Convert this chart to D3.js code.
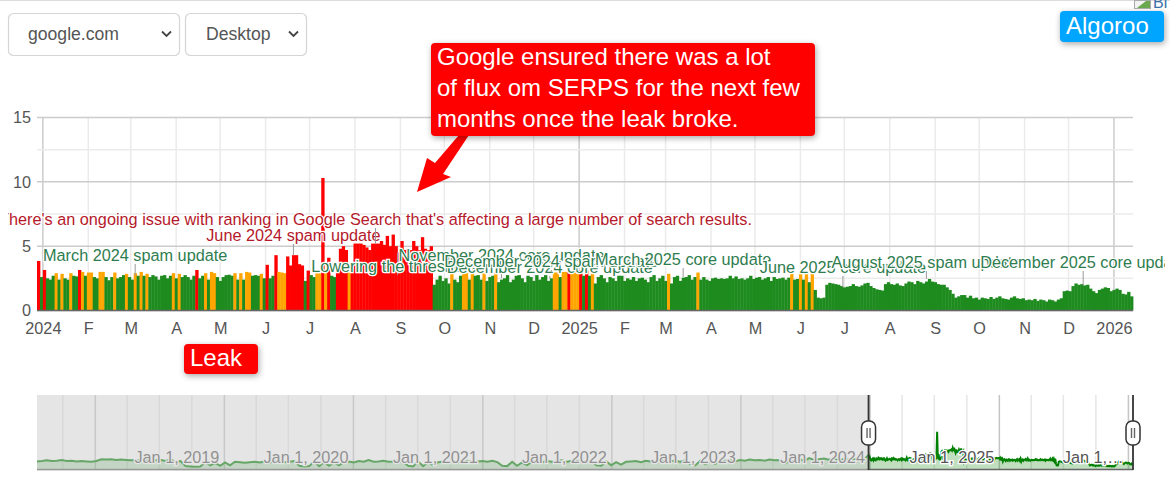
<!DOCTYPE html>
<html lang="en">
<head>
    <meta charset="UTF-8">
    <title>Algoroo</title>
    <script src="https://d3js.org/d3.v7.min.js"></script>
    <style>
        body { margin: 0; background: #fff; }
        svg { display: block; font-family: "Liberation Sans", Arial, sans-serif; }
        .shadow { filter: drop-shadow(1px 2px 3px rgba(0,0,0,.35)); }
    </style>
</head>
<body>
    <div id="chart"></div>
    <script>
        // one value every two days, starting 28 Dec 2023
        var values2024 = [
            3.85,2.6,3.15,2.5,2.4,2.7,2.9,2.4,2.85,2.5,
            2.4,2.9,2.7,2.65,3.15,3.0,2.7,2.95,2.95,2.6,
            2.5,3.0,3.0,2.6,2.35,2.6,2.95,2.5,2.6,2.75,
            2.85,2.6,2.4,2.9,2.7,3.0,2.7,2.85,2.6,2.75,
            2.65,2.4,2.7,2.75,2.5,2.7,2.9,2.5,2.85,2.6,
            2.75,2.6,2.4,2.7,3.15,2.5,2.7,2.9,2.4,3.0,
            2.9,2.6,2.3,2.6,2.75,2.78,2.7,2.9,2.4,2.9,
            2.4,3.0,2.95,2.7,2.75,2.7,2.85,2.5,3.55,2.5,
            2.7,4.3,3.0,2.95,2.9,4.2,3.5,4.3,4.3,3.6,
            3.5,2.3,3.1,2.75,2.6,2.9,2.9,10.3,2.9,4.1,
            2.7,2.6,3.1,4.8,5.0,4.7,2.95,3.1,5.2,5.2,
            5.2,5.1,4.9,4.7,5.2,5.2,5.2,5.4,5.1,5.8,
            5.0,5.9,5.0,4.5,5.4,4.7,4.8,4.7,5.4,5.0,
            4.7,5.7,4.8,4.7,5.0,2.0,2.4,2.7,2.3,2.5,
            2.1,2.85,2.4,2.2,2.7,2.9,2.9,2.4,2.85,2.7,
            2.75,2.4,2.9,2.3,2.6,2.7,2.95,2.2,2.4,2.5,
            2.75,2.2,2.4,2.7,2.75,2.5,2.2,2.7,2.6,2.3,
            2.75,2.4,2.6,2.75,2.3,2.5,2.95,2.95,2.6,3.0,
            3.0,3.1,3.0,3.0,3.0
        ];
        var values2025 = [
            3.1,2.7,3.1,2.7,2.9,
            2.1,2.6,2.75,2.5,2.2,2.6,2.5,2.3,2.7,2.7,
            2.3,2.5,2.4,2.6,2.3,2.5,2.55,2.4,2.2,2.6,
            2.75,2.3,2.5,2.7,2.3,2.85,2.1,2.6,2.7,2.3,
            2.55,2.6,2.75,2.4,2.6,2.95,2.4,2.6,2.4,2.3,
            2.5,2.55,2.45,2.5,2.45,2.5,2.7,2.5,2.65,2.45,
            2.5,2.4,2.5,2.7,2.45,2.55,2.6,2.4,2.5,2.6,
            2.3,2.6,2.45,2.5,2.55,2.4,2.55,2.85,2.4,2.45,
            2.85,2.4,2.85,2.2,2.85,1.6,1.0,.95,1.0,2.0,
            2.15,2.1,2.05,2.0,1.9,1.8,1.85,1.9,2.05,1.9,
            1.85,1.95,2.1,2.15,1.9,1.75,1.65,1.6,1.55,2.05,
            2.2,2.05,2.0,2.1,1.95,1.9,2.1,2.25,2.2,2.05,
            2.3,2.2,2.1,2.25,2.45,2.25,2.2,2.05,2.0,2.0,
            1.8,1.6,1.3,1.0,1.1,1.2,1.2,1.0,1.15,.95,
            1.0,.85,1.0,.95,.9,1.05,.9,1.0,1.1,.95,
            .9,.85,1.0,1.1,.95,.9,.95,.8,.85,.8,
            .9,.75,.85,.8,.7,.85,.8,.7,.85,.95,
            1.5,1.55,1.5,1.9,2.1,2.0,2.05,1.95,2.0,1.7,
            1.5,1.35,1.6,1.7,1.8,1.75,1.5,1.6,1.7,1.6,
            1.3,1.25,1.45,1.1
        ];
        // navigator history, one value every two weeks up to the start of the main data
        var historyValues = [
            2.2,2.3,2.1,2.2,2.4,2.2,2.3,2.5,2.2,2.3,
            2.1,2.2,2.1,2.0,2.2,2.7,2.6,2.7,2.5,2.6,
            2.5,2.4,2.5,2.4,2.5,2.3,2.4,2.5,2.2,2.6,
            2.0,2.2,0.8,0.7,0.6,0.7,1.9,1.0,1.7,0.9,
            1.8,1.0,2.0,1.9,1.7,1.9,2.0,1.8,2.1,1.9,
            2.0,2.3,1.9,2.0,2.2,0.9,0.7,0.8,2.1,0.8,
            1.9,0.9,1.8,1.0,1.9,2.1,1.8,2.2,2.0,2.5,
            2.0,2.1,2.3,2.0,2.1,2.4,1.8,0.9,0.7,2.1,
            0.8,1.9,1.0,1.9,2.0,1.8,2.2,1.9,2.1,2.3,
            1.9,2.1,2.2,2.0,2.3,1.9,0.9,0.8,2.0,0.9,
            1.8,1.1,2.0,2.1,1.9,2.2,2.0,2.1,2.4,2.0,
            2.2,2.3,2.0,2.1,2.2,1.0,0.9,2.1,1.0,1.9,
            1.2,2.0,2.1,2.2,1.9,2.3,2.1,2.2,2.4,2.1,
            2.3,2.2,2.0,2.4,1.2,1.0,2.3,1.3,2.0,1.4,
            2.2,2.3,2.4,2.1,2.5,2.3,2.6,2.4,2.5,2.3,
            2.6,2.4,2.5,1.6,2.0,2.4,2.8,2.2,3.0,2.5,
            2.7,2.9,2.6,2.8,2.5,2.7,2.6,2.8,2.5,2.6
        ];

        var yTicks = [0, 5, 10, 15];
        var yMinorTicks = [2.5, 7.5, 12.5];
        var monthLabels = ["2024","F","M","A","M","J","J","A","S","O","N","D",
                           "2025","F","M","A","M","J","J","A","S","O","N","D","2026"];
        var navYears = [2018, 2019, 2020, 2021, 2022, 2023, 2024, 2025, 2026];
        var navLabels = ["", "Jan 1, 2019", "Jan 1, 2020", "Jan 1, 2021", "Jan 1, 2022",
                         "Jan 1, 2023", "Jan 1, 2024", "Jan 1, 2025", "Jan 1,…"];

        var annotationTexts = [
            "March 2024 spam update",
            "June 2024 spam update",
            "There's an ongoing issue with ranking in Google Search that's affecting a large number of search results.",
            "Lowering the thresholds",
            "November 2024 core update",
            "December 2024 core update",
            "December 2024 spam update",
            "March 2025 core update",
            "June 2025 core update",
            "August 2025 spam update",
            "December 2025 core update"
        ];
        var annotationDates = ["2024-03-04","2024-06-20","2024-08-15","2024-08-30","2024-11-09",
                               "2024-12-12","2024-12-13","2025-03-13","2025-06-30","2025-08-26","2025-12-11"];
        var annotationKinds = ["update","issue","issue","update","update","update","update","update","update","update","update"];
        // baseline of each annotation text, in page pixels
        var annotationLevels = [261, 241, 225, 272, 261, 273, 267, 265, 273, 268, 268];

        var parseDay = d3.timeParse("%Y-%m-%d");
        var start = new Date(2023, 11, 28);
        var end = d3.timeDay.offset(start, 748);
        var values = values2024.concat(values2025);
        var data = values.map(function(v, i) {
            return { date: d3.timeDay.offset(start, i * 2), value: v };
        });

        var svg = d3.select("#chart").append("svg").attr("width", 1170).attr("height", 500);

        svg.append("line").attr("x1", 0).attr("x2", 1170).attr("y1", 0.5).attr("y2", 0.5).attr("stroke", "#ddd");

        // ---- main chart ----
        var x = d3.scaleTime().domain([start, end]).range([37, 1133]);
        var y = d3.scaleLinear().domain([0, 15]).range([310.5, 117.5]);
        var color = d3.scaleThreshold().domain([2.8, 3.05]).range(["#1e8b1e", "#ffa500", "#ff0000"]);

        var months = d3.timeMonth.range(new Date(2024, 0, 1), new Date(2026, 0, 2));

        svg.append("g").selectAll("line").data(months).enter().append("line")
            .attr("x1", function(d) { return x(d); })
            .attr("x2", function(d) { return x(d); })
            .attr("y1", y(15)).attr("y2", y(0))
            .attr("stroke", function(d) { return d.getMonth() === 0 ? "#ccc" : "#ebebeb"; })
            .attr("stroke-width", 1.5);

        svg.append("g").selectAll("line").data(yMinorTicks).enter().append("line")
            .attr("x1", 37).attr("x2", 1133)
            .attr("y1", function(d) { return y(d); })
            .attr("y2", function(d) { return y(d); })
            .attr("stroke", "#ebebeb").attr("stroke-width", 1.5);

        svg.append("g").selectAll("line").data(yTicks).enter().append("line")
            .attr("x1", 37).attr("x2", 1133)
            .attr("y1", function(d) { return y(d); })
            .attr("y2", function(d) { return y(d); })
            .attr("stroke", "#ccc").attr("stroke-width", 1.5);

        // bars overlap a little so no white seams show between neighbours
        svg.append("g").selectAll("rect").data(data).enter().append("rect")
            .attr("x", function(d) { return x(d.date); })
            .attr("width", function(d) { return x(d3.timeDay.offset(d.date, 2)) - x(d.date) + 0.4; })
            .attr("y", function(d) { return y(d.value); })
            .attr("height", function(d) { return y(0) - y(d.value); })
            .attr("fill", function(d) { return color(d.value); });

        svg.append("line").attr("x1", 37).attr("x2", 1133).attr("y1", y(0)).attr("y2", y(0))
            .attr("stroke", "#666").attr("stroke-width", 1.5);

        var yAxis = svg.append("g").attr("transform", "translate(37,0)")
            .call(d3.axisLeft(y).tickValues(yTicks).tickSize(0).tickPadding(6));
        yAxis.select(".domain").remove();
        yAxis.selectAll("text").style("font-size", "16.25px").style("font-family", "inherit").attr("fill", "#555");

        var xAxis = svg.append("g").attr("transform", "translate(0," + y(0) + ")")
            .call(d3.axisBottom(x).tickValues(months).tickSize(0).tickPadding(12)
                .tickFormat(function(d, i) { return monthLabels[i]; }));
        xAxis.select(".domain").remove();
        xAxis.selectAll("text").style("font-size", "16.25px").style("font-family", "inherit").attr("fill", "#555");

        // ---- annotations, later ones sit on top of the earlier ones ----
        svg.append("clipPath").attr("id", "labelClip").append("rect")
            .attr("x", 8).attr("y", 0).attr("width", 1157).attr("height", 500);
        var labelColor = d3.scaleOrdinal().domain(["update", "issue"]).range(["#2f7d4f", "#b5192b"]);
        var notes = svg.append("g").attr("clip-path", "url(#labelClip)");

        annotationTexts.forEach(function(text, i) {
            var day = parseDay(annotationDates[i]);
            var idx = Math.round(d3.timeDay.count(start, day) / 2);
            notes.append("line")
                .attr("x1", x(day)).attr("x2", x(day))
                .attr("y1", annotationLevels[i] + 3)
                .attr("y2", y(values[idx]))
                .attr("stroke", "#999");
            notes.append("text")
                .attr("x", x(day)).attr("y", annotationLevels[i])
                .attr("text-anchor", "middle")
                .attr("font-size", 16.25)
                .attr("fill", labelColor(annotationKinds[i]))
                .attr("stroke", "#fff").attr("stroke-width", 2.5)
                .attr("paint-order", "stroke")
                .text(text);
        });

        // ---- range navigator ----
        var navX = d3.scaleTime().domain([new Date(2017, 6, 20), end]).range([37, 1133]);
        var navY = d3.scaleLinear().domain([0, 20.5]).range([469, 395]);
        var navTicks = d3.timeMonth.range(new Date(2017, 9, 1), new Date(2026, 0, 2), 3);
        var navHistory = historyValues.map(function(v, i) {
            return { date: d3.timeDay.offset(start, -14 * (historyValues.length - i)), value: v };
        });
        var navData = navHistory.concat(data);

        var nav = svg.append("g");
        nav.append("clipPath").attr("id", "navClip").append("rect")
            .attr("x", 37).attr("y", 395).attr("width", 1096).attr("height", 74);

        nav.append("g").selectAll("line").data(navTicks).enter().append("line")
            .attr("x1", function(d) { return navX(d); })
            .attr("x2", function(d) { return navX(d); })
            .attr("y1", 395).attr("y2", 469)
            .attr("stroke", function(d) { return d.getMonth() === 0 ? "#c4c4c4" : "#e6e6e6"; })
            .attr("stroke-width", 1.5);

        var plot = nav.append("g").attr("clip-path", "url(#navClip)");
        plot.append("path").datum(navData)
            .attr("fill", "#008000").attr("fill-opacity", 0.25)
            .attr("d", d3.area().x(function(d) { return navX(d.date); }).y0(navY(0)).y1(function(d) { return navY(d.value); }));
        plot.append("path").datum(navData)
            .attr("fill", "none").attr("stroke", "#008000").attr("stroke-width", 2)
            .attr("d", d3.line().x(function(d) { return navX(d.date); }).y(function(d) { return navY(d.value); }));

        nav.append("line").attr("x1", 37).attr("x2", 1133).attr("y1", 469.5).attr("y2", 469.5)
            .attr("stroke", "#666").attr("stroke-width", 1.5);

        navYears.forEach(function(year, i) {
            if (!navLabels[i]) return;
            nav.append("text")
                .attr("x", navX(new Date(year, 0, 1)) - 5).attr("y", 463)
                .attr("text-anchor", "end")
                .attr("font-size", 16.25)
                .attr("fill", "#555")
                .attr("stroke", "#fff").attr("stroke-width", 2.5)
                .attr("paint-order", "stroke")
                .text(navLabels[i]);
        });

        // the part of the range outside the selected window is greyed over
        nav.append("rect").attr("x", 37).attr("y", 395)
            .attr("width", navX(start) - 37).attr("height", 75)
            .attr("fill", "#ccc").attr("fill-opacity", 0.5);

        [navX(start), 1133].forEach(function(hx) {
            nav.append("line").attr("x1", hx).attr("x2", hx).attr("y1", 395).attr("y2", 470)
                .attr("stroke", "#333").attr("stroke-width", 1.8);
            nav.append("rect").attr("x", hx - 7).attr("y", 421).attr("width", 14).attr("height", 24).attr("rx", 6)
                .attr("fill", "#fff").attr("stroke", "#333").attr("stroke-width", 1.5);
            nav.append("path").attr("d", "M" + (hx - 1.5) + ",428V438M" + (hx + 1.5) + ",428V438")
                .attr("stroke", "#666").attr("stroke-width", 1.4);
        });

        // ---- dropdowns ----
        function dropdown(left, width, label, textX) {
            var g = svg.append("g");
            g.append("rect").attr("x", left + 0.5).attr("y", 13.5).attr("width", width).attr("height", 42).attr("rx", 5)
                .attr("fill", "#fff").attr("stroke", "#d5d5d5").attr("stroke-width", 1.2);
            g.append("text").attr("x", textX).attr("y", 39.5).attr("font-size", 17.6).attr("fill", "#555").text(label);
            g.append("path").attr("d", "M" + (left + width - 17) + ",31.5l4.5,4.5l4.5,-4.5")
                .attr("fill", "none").attr("stroke", "#444").attr("stroke-width", 1.8);
        }
        dropdown(8, 171, "google.com", 28);
        dropdown(185, 121, "Desktop", 206);

        // ---- callouts ----
        function callout(left, top, width, height, fill, lines, textX, baselines) {
            var g = svg.append("g");
            g.append("rect").attr("class", "shadow").attr("x", left).attr("y", top)
                .attr("width", width).attr("height", height).attr("rx", 4).attr("fill", fill);
            lines.forEach(function(line, i) {
                g.append("text").attr("x", textX).attr("y", baselines[i])
                    .attr("font-size", 24).attr("fill", "#fff").text(line);
            });
        }
        svg.append("path")
            .attr("d", "M459,135L469,135L443,174L451,177L417,192L427,158L435,163Z")
            .attr("fill", "#ff0000");
        callout(431, 43, 384, 93, "#ff0000",
            ["Google ensured there was a lot", "of flux om SERPS for the next few", "months once the leak broke."],
            437, [65, 96, 127]);
        callout(184, 344, 74, 30, "#ff0000", ["Leak"], 190, [366]);
        callout(1060, 11, 104, 31, "#00a5ff", ["Algoroo"], 1066, [34]);

        // broken image placeholder, top right corner
        svg.append("rect").attr("x", 1134.5).attr("y", 0.5).attr("width", 16).attr("height", 8)
            .attr("fill", "#f2f2f2").attr("stroke", "#aaa");
        svg.append("path").attr("d", "M1137,8L1146,1L1150,1L1150,8Z").attr("fill", "#6aa84f");
        svg.append("text").attr("x", 1153).attr("y", 8).attr("font-size", 16).attr("fill", "#3b6fa8").text("Bl");
    </script>
</body>
</html>
